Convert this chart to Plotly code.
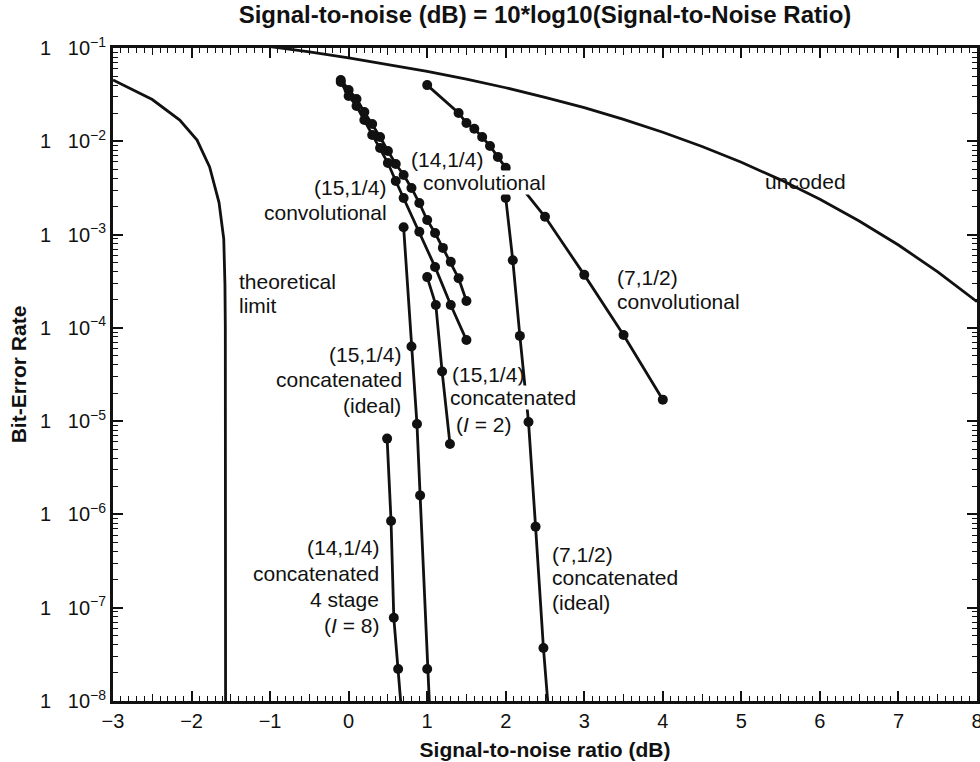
import plotly.graph_objects as go

# Eb/N0 (dB) and bit-error rate for each curve
uncoded_x = [-1.2, -1.0, -0.5, 0.0, 0.5, 1.0, 1.5, 2.0, 2.5, 3.0, 3.5, 4.0,
             4.5, 5.0, 5.5, 6.0, 6.5, 7.0, 7.5, 8.0]
uncoded_y = [0.109, 0.104, 0.0909, 0.0786, 0.0671, 0.0563, 0.0464, 0.0375,
             0.0296, 0.0229, 0.0172, 0.0125, 0.0088, 0.00595, 0.00386,
             0.00239, 0.0014, 0.000773, 0.000398, 0.000191]

limit_x = [-3.0, -2.5, -2.15, -1.93, -1.77, -1.65, -1.59, -1.575, -1.57,
           -1.568, -1.567, -1.566, -1.566]
limit_y = [0.0455, 0.028, 0.0169, 0.0103, 0.0053, 0.0022, 9e-4, 3e-4, 1e-4,
           1e-5, 1e-6, 1e-8, 1e-9]

conv14_x = [-0.1, 0.0, 0.1, 0.2, 0.3, 0.4, 0.5, 0.6, 0.7, 0.8, 0.9, 1.0,
            1.1, 1.2, 1.3, 1.4, 1.5]
conv14_y = [0.0454, 0.0355, 0.0284, 0.0206, 0.0153, 0.0111, 0.00787,
            0.00571, 0.00435, 0.00316, 0.00218, 0.00143, 0.00104, 7.2e-4,
            5.1e-4, 3.4e-4, 1.94e-4]

conv15_x = [-0.1, 0.0, 0.1, 0.2, 0.3, 0.4, 0.5, 0.6, 0.7, 0.9, 1.1, 1.3, 1.5]
conv15_y = [0.0432, 0.0306, 0.0239, 0.0169, 0.0117, 0.00848, 0.00585,
            0.00375, 0.00247, 0.00107, 4.5e-4, 1.76e-4, 7.4e-5]

conv7_x = [1.0, 1.4, 1.5, 1.6, 1.7, 1.8, 1.9, 2.0, 2.5, 3.0, 3.5, 4.0]
conv7_y = [0.040, 0.0201, 0.0157, 0.0136, 0.0111, 0.0089, 0.0068, 0.0052,
           1.55e-3, 3.7e-4, 8.4e-5, 1.7e-5]

cat7_x = [2.0, 2.09, 2.18, 2.29, 2.38, 2.48, 2.63]
cat7_y = [2.47e-3, 5.3e-4, 8.2e-5, 9.8e-6, 7.4e-7, 3.7e-8, 1e-9]

cat15_ideal_x = [0.70, 0.80, 0.87, 0.91, 1.00, 1.08]
cat15_ideal_y = [1.2e-3, 6.3e-5, 9.3e-6, 1.6e-6, 2.2e-8, 1e-9]

cat15_i2_x = [1.0, 1.11, 1.19, 1.29]
cat15_i2_y = [3.5e-4, 1.76e-4, 3.4e-5, 5.7e-6]

cat14_4st_x = [0.49, 0.54, 0.575, 0.63, 0.76]
cat14_4st_y = [6.5e-6, 8.5e-7, 7.8e-8, 2.2e-8, 1e-9]

decades = [-8, -7, -6, -5, -4, -3, -2, -1]
half_steps = [-2.5, -1.5, -0.5, 0.5, 1.5, 2.5, 3.5, 4.5, 5.5, 6.5, 7.5]

INK = "#111111"
FONT = "Liberation Sans, Arial, Helvetica, sans-serif"

fig = go.Figure()

def curve(x, y, markers=True):
    fig.add_trace(go.Scatter(
        x=x, y=y, mode="lines+markers" if markers else "lines",
        line=dict(color=INK, width=2.8),
        marker=dict(color=INK, size=10),
        showlegend=False, hoverinfo="x+y"))

curve(uncoded_x, uncoded_y, markers=False)
curve(limit_x, limit_y, markers=False)
curve(conv14_x, conv14_y)
curve(conv15_x, conv15_y)
curve(conv7_x, conv7_y)
curve(cat7_x, cat7_y)
curve(cat15_ideal_x, cat15_ideal_y)
curve(cat15_i2_x, cat15_i2_y)
curve(cat14_4st_x, cat14_4st_y)

# empty trace so the half-unit tick axis gets drawn
fig.add_trace(go.Scatter(x=[], y=[], xaxis="x2", showlegend=False,
                         hoverinfo="skip"))

# curve labels: (text, x, log10 y, anchor, white box)
labels = [
    ("(15,1/4)", 0.486, -2.49, "right", False),
    ("convolutional", 0.499, -2.758, "right", False),
    ("(14,1/4)", 0.779, -2.19, "left", False),
    ("convolutional", 0.931, -2.447, "left", True),
    ("theoretical", -1.41, -3.508, "left", False),
    ("limit", -1.41, -3.765, "left", False),
    ("(15,1/4)", 0.677, -4.29, "right", False),
    ("concatenated", 0.69, -4.558, "right", False),
    ("(ideal)", 0.677, -4.837, "right", False),
    ("(15,1/4)", 1.30, -4.505, "left", False),
    ("concatenated", 1.275, -4.751, "left", True),
    ("(<i>I</i> = 2)", 1.35, -5.04, "left", False),
    ("(14,1/4)", 0.397, -6.359, "right", False),
    ("concatenated", 0.397, -6.638, "right", False),
    ("4 stage", 0.397, -6.916, "right", False),
    ("(<i>I</i> = 8)", 0.397, -7.195, "right", False),
    ("(7,1/2)", 2.572, -6.434, "left", False),
    ("concatenated", 2.572, -6.68, "left", False),
    ("(ideal)", 2.572, -6.949, "left", False),
    ("(7,1/2)", 3.40, -3.465, "left", False),
    ("convolutional", 3.40, -3.722, "left", False),
    ("uncoded", 5.817, -2.436, "center", False),
]
for text, lx, ly, anchor, boxed in labels:
    fig.add_annotation(
        x=lx, y=ly, text=text, showarrow=False, xanchor=anchor,
        yanchor="middle", font=dict(family=FONT, size=21, color=INK),
        bgcolor="white" if boxed else None, borderpad=0)

fig.update_layout(
    width=980, height=762, autosize=False,
    margin=dict(l=113, r=3, t=48, b=61),
    paper_bgcolor="white", plot_bgcolor="white",
    font=dict(family=FONT, color=INK),
    title=dict(text="<b>Signal-to-noise (dB) = 10*log10(Signal-to-Noise Ratio)</b>",
               x=0.5, xref="paper", y=1 - 15 / 762, yref="container",
               yanchor="middle", font=dict(size=24)),
    xaxis=dict(
        range=[-3, 8], dtick=1, tick0=0, automargin=False,
        ticklabeloverflow="allow",
        ticks="inside", ticklen=10, tickwidth=1.5, tickcolor=INK,
        minor=dict(dtick=0.1, ticks="inside", ticklen=5, tickwidth=1.2,
                   tickcolor=INK, showgrid=False),
        showline=True, linewidth=3, linecolor=INK, mirror="ticks",
        showgrid=False, zeroline=False,
        tickfont=dict(size=20),
        title=dict(text="<b>Signal-to-noise ratio (dB)</b>",
                   font=dict(size=21), standoff=12),
    ),
    xaxis2=dict(overlaying="x", matches="x", anchor="y", side="bottom",
                tickmode="array", tickvals=half_steps, ticks="inside",
                ticklen=7, tickwidth=1.3, tickcolor=INK,
                showticklabels=False, mirror="ticks", showline=False,
                showgrid=False, zeroline=False, automargin=False),
    yaxis=dict(
        type="log", range=[-8, -1], automargin=False,
        tickmode="array",
        tickvals=[10.0 ** d for d in decades],
        ticktext=["1&nbsp;&nbsp;&nbsp;10<sup>\u2212%d</sup>" % (-d) for d in decades],
        ticks="inside", ticklen=10, tickwidth=1.5, tickcolor=INK,
        minor=dict(tickvals=[k * 10.0 ** d for d in decades[:-1] for k in range(2, 10)],
                   ticks="inside", ticklen=5, tickwidth=1.2, tickcolor=INK,
                   showgrid=False),
        showline=True, linewidth=3, linecolor=INK, mirror="ticks",
        showgrid=False, zeroline=False,
        tickfont=dict(size=20),
        title=dict(text="<b>Bit-Error Rate</b>", font=dict(size=21), standoff=8),
    ),
)

fig.write_html("out.html")
